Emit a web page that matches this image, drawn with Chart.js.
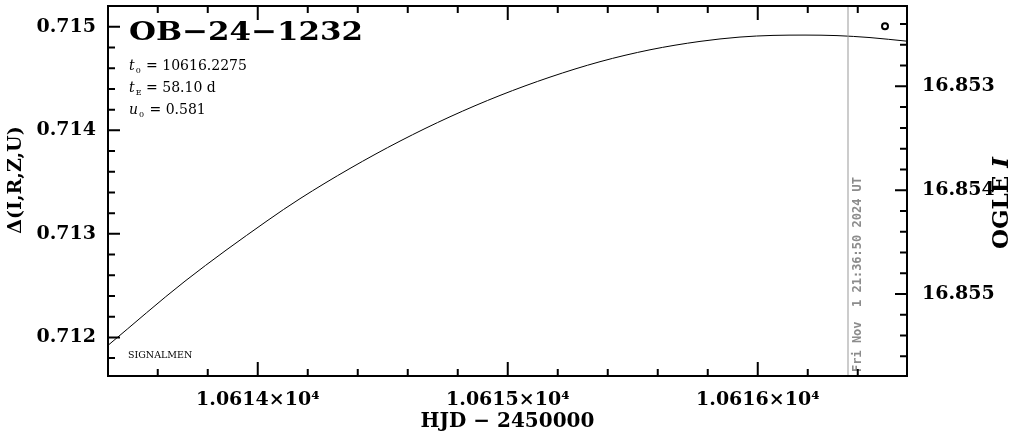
<!DOCTYPE html>
<html>
<head>
<meta charset="utf-8">
<script src="https://cdn.jsdelivr.net/npm/chart.js@4.4.1/dist/chart.umd.min.js"></script>
<style>
	body { margin: 0; background: #fff; }
	#wrap { width: 1011px; height: 434px; }
</style>
</head>
<body>
<div id="wrap"><canvas id="ob_lightcurve" width="1011" height="434"></canvas></div>
<script>
// model curve
const hjd = [10613.401, 10613.709, 10614.037, 10614.169, 10614.369, 10614.569, 10614.769, 10614.969,
	10615.169, 10615.369, 10615.569, 10615.769, 10615.929, 10616.061, 10616.189, 10616.317, 10616.449, 10616.597];
const delta = [0.711923, 0.712543, 0.713125, 0.713340, 0.713632, 0.713896, 0.714131, 0.714337,
	0.714514, 0.714663, 0.714778, 0.714859, 0.714901, 0.714917, 0.714920, 0.714915, 0.714896, 0.714861];

// OGLE I observation
const obsHjd = [10616.509];
const obsMag = [16.85242];

// axes
const xTicks = [10614, 10615, 10616];
const xTickLabels = ['1.0614×10⁴', '1.0615×10⁴', '1.0616×10⁴'];
const yTicks = [0.712, 0.713, 0.714, 0.715];
const y2Ticks = [16.853, 16.854, 16.855];

const nowHjd = 10616.359;
const nowLabel = 'Fri Nov  1 21:36:50 2024 UT';
const eventName = 'OB\u221224\u22121232';
const params = [['t', '0', ' = 10616.2275'], ['t', 'E', ' = 58.10 d'], ['u', '0', ' = 0.581']];

const labelFont = { family: 'DejaVu Serif', size: 19, weight: 'bold' };

const noPad = (s) => { s.paddingTop = 0; s.paddingBottom = 0; s.paddingLeft = 0; s.paddingRight = 0; };

const framePlugin = {
	id: 'framePlugin',
	afterDraw(chart) {
		const ctx = chart.ctx;
		const a = chart.chartArea;
		const x = chart.scales.x, y = chart.scales.y, y2 = chart.scales.y2;
		ctx.save();

		// "now" line
		const nx = x.getPixelForValue(nowHjd);
		ctx.strokeStyle = '#999';
		ctx.lineWidth = 1;
		ctx.beginPath();
		ctx.moveTo(nx + 0.5, a.top);
		ctx.lineTo(nx + 0.5, a.bottom);
		ctx.stroke();
		ctx.save();
		ctx.translate(nx + 10, a.bottom - 4);
		ctx.rotate(-Math.PI / 2);
		ctx.fillStyle = '#8c8c8c';
		ctx.font = 'bold 12px "DejaVu Sans Mono"';
		ctx.textAlign = 'left';
		ctx.textBaseline = 'middle';
		ctx.fillText(nowLabel, 0, 0);
		ctx.restore();

		// frame
		ctx.strokeStyle = '#000';
		ctx.lineWidth = 2;
		ctx.strokeRect(a.left, a.top, a.right - a.left, a.bottom - a.top);

		// ticks, pointing inwards
		ctx.beginPath();
		for (let i = 0; i <= 16; i++) {
			const v = 10613.4 + i * 0.2;
			const px = x.getPixelForValue(v);
			if (px < a.left || px > a.right) continue;
			const major = Math.abs(v - Math.round(v)) < 1e-6;
			const len = major ? 14 : 7;
			ctx.moveTo(px, a.bottom); ctx.lineTo(px, a.bottom - len);
			ctx.moveTo(px, a.top); ctx.lineTo(px, a.top + len);
		}
		for (let i = 0; i <= 20; i++) {
			const v = 0.7116 + i * 0.0002;
			const py = y.getPixelForValue(v);
			if (py < a.top || py > a.bottom) continue;
			const major = i % 5 === 2;
			ctx.moveTo(a.left, py); ctx.lineTo(a.left + (major ? 12 : 7), py);
		}
		for (let i = 0; i <= 20; i++) {
			const v = 16.8522 + i * 0.0002;
			const py = y2.getPixelForValue(v);
			if (py < a.top || py > a.bottom) continue;
			const major = i % 5 === 4;
			ctx.moveTo(a.right, py); ctx.lineTo(a.right - (major ? 12 : 7), py);
		}
		ctx.stroke();

		ctx.fillStyle = '#000';

		// left axis title
		ctx.save();
		ctx.translate(16, 180);
		ctx.rotate(-Math.PI / 2);
		ctx.textBaseline = 'middle';
		ctx.textAlign = 'center';
		ctx.font = 'bold 19px "DejaVu Serif"';
		ctx.fillText('\u0394(I,R,Z,U)', 0, 0);
		ctx.restore();

		// right axis title
		ctx.save();
		ctx.translate(1002, 203);
		ctx.rotate(-Math.PI / 2);
		ctx.textBaseline = 'middle';
		ctx.textAlign = 'left';
		ctx.font = 'bold 23px "DejaVu Serif"';
		const w1 = ctx.measureText('OGLE ').width;
		ctx.font = 'bold italic 23px "DejaVu Serif"';
		const w2 = ctx.measureText('I').width;
		ctx.font = 'bold 23px "DejaVu Serif"';
		ctx.fillText('OGLE ', -(w1 + w2) / 2, 0);
		ctx.font = 'bold italic 23px "DejaVu Serif"';
		ctx.fillText('I', -(w1 + w2) / 2 + w1, 0);
		ctx.restore();

		// event name, stretched to the width it has in the plot
		ctx.textBaseline = 'alphabetic';
		ctx.textAlign = 'left';
		ctx.font = 'bold 26px "DejaVu Serif"';
		const tw = ctx.measureText(eventName).width;
		ctx.save();
		ctx.translate(a.left + 21, a.top + 34);
		ctx.scale(234 / tw, 1);
		ctx.fillText(eventName, 0, 0);
		ctx.restore();

		params.forEach((p, i) => {
			const bx = a.left + 21, by = a.top + 64 + i * 22;
			ctx.font = 'italic 14px "DejaVu Serif"';
			ctx.fillText(p[0], bx, by);
			const sw = ctx.measureText(p[0]).width;
			ctx.font = '8px "DejaVu Serif"';
			ctx.fillText(p[1], bx + sw + 1, by + 3);
			ctx.font = '14px "DejaVu Serif"';
			ctx.fillText(p[2], bx + sw + 7, by);
		});
		ctx.font = '9.5px "DejaVu Serif"';
		ctx.fillText('SIGNALMEN', a.left + 20, a.bottom - 18);

		ctx.restore();
	}
};

const config = {
	type: 'scatter',
	data: {
		datasets: [{
			data: hjd.map((v, i) => ({ x: v, y: delta[i] })),
			yAxisID: 'y',
			showLine: true,
			borderColor: '#000',
			borderWidth: 1,
			pointRadius: 0,
			cubicInterpolationMode: 'monotone',
			fill: false
		}, {
			data: obsHjd.map((v, i) => ({ x: v, y: obsMag[i] })),
			yAxisID: 'y2',
			showLine: false,
			pointRadius: 3,
			pointBorderWidth: 2,
			pointBorderColor: '#000',
			pointBackgroundColor: '#fff'
		}]
	},
	options: {
		responsive: false,
		animation: false,
		layout: { padding: { top: 3, left: 0, right: 0, bottom: 0 } },
		plugins: {
			legend: { display: false },
			tooltip: { enabled: false }
		},
		scales: {
			x: {
				type: 'linear',
				min: 10613.401,
				max: 10616.597,
				grid: { display: false, drawTicks: false },
				border: { display: false },
				afterBuildTicks: (s) => { s.ticks = xTicks.map(v => ({ value: v })); },
				afterFit: (s) => { s.height = 58; noPad(s); },
				ticks: {
					color: '#000',
					font: labelFont,
					padding: 13,
					maxRotation: 0,
					callback: (v) => xTickLabels[xTicks.indexOf(v)]
				},
				title: {
					display: true,
					text: 'HJD \u2212 2450000',
					color: '#000',
					font: { family: 'DejaVu Serif', size: 20, weight: 'bold' },
					padding: { top: 2, bottom: 0 }
				}
			},
			y: {
				type: 'linear',
				position: 'left',
				min: 0.711627,
				max: 0.715201,
				grid: { display: false, drawTicks: false },
				border: { display: false },
				afterBuildTicks: (s) => { s.ticks = yTicks.map(v => ({ value: v })); },
				afterFit: (s) => { s.width = 108; noPad(s); },
				ticks: {
					color: '#000',
					font: labelFont,
					padding: 12,
					callback: (v) => v.toFixed(3)
				}
			},
			y2: {
				type: 'linear',
				position: 'right',
				reverse: true,
				min: 16.852226,
				max: 16.85579,
				grid: { display: false, drawTicks: false },
				border: { display: false },
				afterBuildTicks: (s) => { s.ticks = y2Ticks.map(v => ({ value: v })); },
				afterFit: (s) => { s.width = 104; noPad(s); },
				ticks: {
					color: '#000',
					font: labelFont,
					padding: 15,
					callback: (v) => v.toFixed(3)
				}
			}
		}
	},
	plugins: [framePlugin]
};

const ctx = document.getElementById('ob_lightcurve').getContext('2d');
new Chart(ctx, config);
</script>
</body>
</html>
